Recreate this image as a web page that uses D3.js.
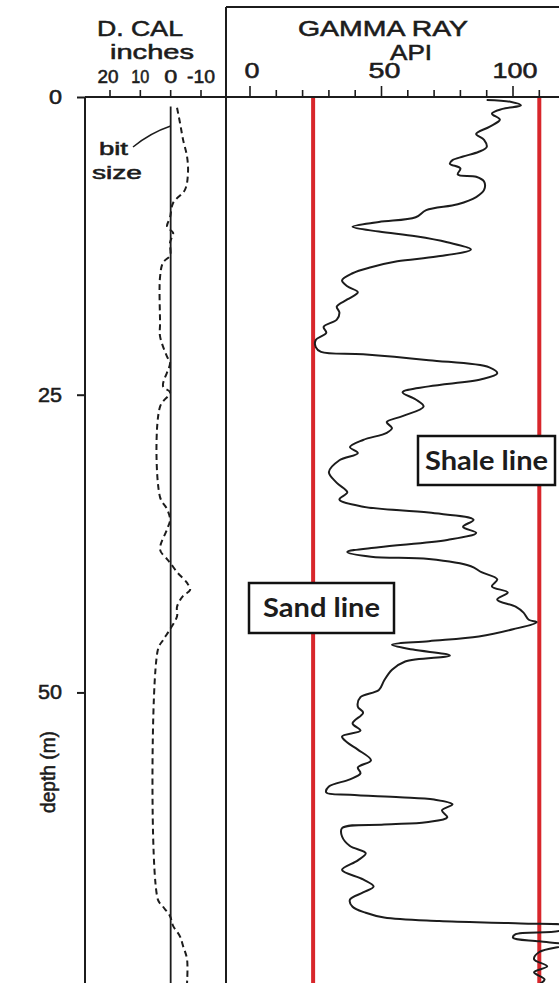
<!DOCTYPE html>
<html>
<head>
<meta charset="utf-8">
<script src="https://cdn.jsdelivr.net/npm/d3@7"></script>
<style>
  html, body { margin: 0; padding: 0; background: #fff; }
  svg { display: block; }
  text { font-family: "Liberation Sans", Arial, sans-serif; fill: #1c1c1c; }
  .hdr { stroke: #1c1c1c; stroke-width: 0.55; }
</style>
</head>
<body>
<svg id="log" width="559" height="983"></svg>
<script>
// Gamma ray log (API) against depth (m)
const grDepth = [0.25, 0.4, 0.7, 1.0, 1.4, 1.9, 2.5, 3.1, 3.6, 4.2, 4.6, 5.0, 5.3, 5.6, 6.0, 6.5, 6.7, 7.1, 7.8, 8.4,
  9.0, 9.5, 10.1, 10.5, 10.9, 11.3, 11.7, 12.2, 12.8, 13.4, 13.8, 14.3, 14.8, 15.4, 15.9, 16.4, 17.0, 17.6, 18.1, 18.7,
  19.3, 19.8, 20.4, 21.0, 21.4, 21.6, 22.1, 22.7, 23.2, 23.7, 24.3, 24.8, 25.4, 26.0, 26.8, 27.3, 27.8, 28.2, 28.8, 29.4,
  29.9, 30.5, 31.5, 32.4, 33.2, 33.8, 34.4, 34.9, 35.5, 36.1, 36.6, 37.2, 37.8, 38.2, 38.6, 38.8, 39.4, 39.9, 40.5, 41.1,
  41.6, 42.2, 42.8, 43.3, 43.9, 44.1, 44.7, 45.3, 45.7, 46.0, 46.4, 46.9, 47.4, 48.1, 49.0, 49.8, 50.4, 51.2, 51.7, 52.6,
  53.2, 53.7, 54.2, 54.8, 55.7, 56.3, 56.8, 57.3, 57.9, 58.4, 58.6, 58.8, 59.0, 59.4, 59.9, 60.5, 60.9, 61.1, 61.4, 62.1,
  62.9, 63.5, 64.1, 64.9, 65.7, 66.3, 66.8, 67.4, 68.0, 68.5, 68.9, 69.2, 69.4, 69.6, 70.0, 70.3, 70.6, 70.9, 71.2, 71.8,
  72.4, 73.0, 73.5, 74.1, 74.5];
const grApi = [90, 99, 103, 96, 92, 95, 91, 86, 89, 90, 87, 81, 77, 76, 80, 79, 86, 89, 89, 86,
  79, 67, 63, 49, 39, 49, 63, 75, 84, 71, 56, 46, 39, 35, 37, 41, 37, 33, 34, 33,
  28, 29, 25, 25, 27, 43, 68, 91, 94, 88, 68, 58, 63, 66, 58, 52, 54, 52, 43, 38,
  41, 34, 30, 33, 37, 34, 43, 68, 85, 81, 86, 75, 49, 37, 46, 68, 84, 88, 94, 92,
  98, 94, 101, 104, 106, 109, 100, 87, 68, 54, 62, 76, 59, 54, 51, 49, 42, 41, 43, 39,
  42, 35, 37, 41, 46, 41, 42, 38, 30, 29, 38, 57, 70, 77, 73, 75, 67, 51, 35, 35,
  38, 44, 41, 35, 43, 47, 43, 38, 39, 44, 51, 72, 103, 120, 118, 101, 100, 110, 120, 110,
  108, 113, 108, 112, 110];

// Differential caliper (inches) against depth (m)
const calDepth = [0.9, 2.2, 3.6, 5.0, 6.4, 7.8, 8.9, 10.1, 10.9, 11.4, 12.2, 13.3, 13.9, 15.1, 19.0, 20.1, 21.8, 22.3,
  24.3, 24.8, 26.0, 33.6, 34.6, 35.5, 36.3, 38.0, 38.8, 39.1, 39.9, 40.8, 41.4, 41.9, 42.8, 43.6, 44.7, 45.6, 46.4,
  67.4, 68.0, 68.8, 69.6, 70.5, 71.3, 72.4, 74.4];
const calInches = [-2.1, -3.1, -4.1, -5.4, -5.7, -4.7, -0.8, 0.2, 1.2, -0.8, 0.2, 0.2, 2.5, 3.5, 3.5, 3.5, 1.2, 0.2,
  2.5, 0.2, 3.5, 3.5, 1.2, 0.2, 1.2, 3.5, 1.2, 0.2, -2.1, -5.4, -6.4, -4.1, -2.1, -2.1, 0.2, 2.5, 4.2,
  4.2, 2.5, 0.2, -0.8, -3.1, -4.1, -5.4, -5.4];

// Axis ticks and reference lines
const depthTicks = [0, 25, 50];
const calTicks = [20, 10, 0, -10];
const grMajorTicks = [0, 50, 100];
const grMinorTicks = [10, 20, 30, 40, 60, 70, 80, 90, 110];
const bitSize = 0;
const sandLineApi = 24;
const shaleLineApi = 110;
const baseLines = [
  { label: "Sand line", value: sandLineApi },
  { label: "Shale line", value: shaleLineApi }
];

const svg = d3.select("#log");
const W = 559, H = 983;
const topY = 97;

const y = d3.scaleLinear().domain([0, 74.4]).range([topY, H]);
const xGR = d3.scaleLinear().domain([0, 100]).range([250, 513]);
const xCal = d3.scaleLinear().domain([20, -10]).range([110, 201]);

const calLeft = 85, calRight = 226;
const ink = "#1c1c1c";

// Track borders
svg.append("line").attr("x1", calLeft).attr("x2", calLeft).attr("y1", topY).attr("y2", H)
  .attr("stroke", ink).attr("stroke-width", 2);
svg.append("line").attr("x1", calRight).attr("x2", calRight).attr("y1", 7).attr("y2", H)
  .attr("stroke", ink).attr("stroke-width", 2);
svg.append("line").attr("x1", calRight).attr("x2", W).attr("y1", 7).attr("y2", 7)
  .attr("stroke", ink).attr("stroke-width", 2);
svg.append("line").attr("x1", calLeft).attr("x2", W).attr("y1", topY).attr("y2", topY)
  .attr("stroke", ink).attr("stroke-width", 2.2);

// Depth axis
const depthAxis = svg.append("g").attr("transform", `translate(${calLeft},0)`)
  .call(d3.axisLeft(y).tickValues(depthTicks).tickSize(8).tickPadding(15));
depthAxis.attr("font-size", 20);
depthAxis.select(".domain").remove();
depthAxis.selectAll("line").attr("stroke", ink).attr("stroke-width", 2);
depthAxis.selectAll("text").attr("font-size", 20).attr("fill", ink).attr("class", "hdr")
  .attr("textLength", d => d === 0 ? 13 : 24).attr("lengthAdjust", "spacingAndGlyphs")
  .style("font-family", "'Liberation Sans', Arial, sans-serif");

svg.append("text").attr("transform", "translate(55,772) rotate(-90)").attr("class", "hdr")
  .attr("text-anchor", "middle").attr("font-size", 21)
  .attr("textLength", 82).attr("lengthAdjust", "spacingAndGlyphs").text("depth (m)");

// Caliper scale ticks
svg.append("g").selectAll("line").data(calTicks).join("line")
  .attr("x1", d => xCal(d)).attr("x2", d => xCal(d))
  .attr("y1", topY - 7).attr("y2", topY).attr("stroke", ink).attr("stroke-width", 1.6);
const calLabelW = { "20": 21, "10": 18, "0": 13, "-10": 28 };
svg.append("g").selectAll("text").data(calTicks).join("text").attr("class", "hdr")
  .attr("x", d => xCal(d) - (d === 20 ? 2 : 0))
  .attr("y", 83).attr("text-anchor", "middle").attr("font-size", 18)
  .attr("textLength", d => calLabelW[String(d)]).attr("lengthAdjust", "spacingAndGlyphs")
  .text(d => String(d));

svg.append("text").attr("x", 140).attr("y", 36).attr("text-anchor", "middle").attr("class", "hdr")
  .attr("font-size", 22).attr("textLength", 86).attr("lengthAdjust", "spacingAndGlyphs").text("D. CAL");
svg.append("text").attr("x", 152).attr("y", 59).attr("text-anchor", "middle").attr("class", "hdr")
  .attr("font-size", 21).attr("textLength", 84).attr("lengthAdjust", "spacingAndGlyphs").text("inches");

// Gamma ray scale ticks
svg.append("g").selectAll("line").data(grMinorTicks).join("line")
  .attr("x1", d => xGR(d)).attr("x2", d => xGR(d))
  .attr("y1", topY - 7).attr("y2", topY).attr("stroke", ink).attr("stroke-width", 1.6);
svg.append("g").selectAll("line").data(grMajorTicks).join("line")
  .attr("x1", d => xGR(d)).attr("x2", d => xGR(d))
  .attr("y1", topY - 11).attr("y2", topY).attr("stroke", ink).attr("stroke-width", 1.6);
const grLabelW = { "0": 15, "50": 32, "100": 45 };
svg.append("g").selectAll("text").data(grMajorTicks).join("text").attr("class", "hdr")
  .attr("x", d => xGR(d) + (d === 50 ? 3 : 2))
  .attr("y", 78).attr("text-anchor", "middle").attr("font-size", 22)
  .attr("textLength", d => grLabelW[String(d)]).attr("lengthAdjust", "spacingAndGlyphs")
  .text(d => String(d));

svg.append("text").attr("x", 383).attr("y", 36).attr("text-anchor", "middle").attr("class", "hdr")
  .attr("font-size", 22).attr("textLength", 170).attr("lengthAdjust", "spacingAndGlyphs").text("GAMMA RAY");
svg.append("text").attr("x", 411).attr("y", 60).attr("text-anchor", "middle").attr("class", "hdr")
  .attr("font-size", 22).attr("textLength", 42).attr("lengthAdjust", "spacingAndGlyphs").text("API");

// Bit size reference and caliper curve
svg.append("line").attr("x1", xCal(bitSize)).attr("x2", xCal(bitSize))
  .attr("y1", y(0.8)).attr("y2", H).attr("stroke", ink).attr("stroke-width", 1.8);

const calLine = d3.line().x(d => xCal(d[1])).y(d => y(d[0])).curve(d3.curveCatmullRom.alpha(0.5));
svg.append("path").datum(calDepth.map((d, i) => [d, calInches[i]]))
  .attr("d", calLine).attr("fill", "none").attr("stroke", ink)
  .attr("stroke-width", 2).attr("stroke-dasharray", "6,4");

svg.append("text").attr("x", 99).attr("y", 155).attr("font-size", 18).attr("class", "hdr")
  .attr("textLength", 29).attr("lengthAdjust", "spacingAndGlyphs").text("bit");
svg.append("text").attr("x", 92).attr("y", 179).attr("font-size", 18).attr("class", "hdr")
  .attr("textLength", 50).attr("lengthAdjust", "spacingAndGlyphs").text("size");
svg.append("path").attr("d", `M133,147 Q150,133 ${xCal(bitSize)},126`)
  .attr("fill", "none").attr("stroke", ink).attr("stroke-width", 1.5);

// Sand and shale base lines
svg.append("g").selectAll("line").data(baseLines).join("line")
  .attr("x1", d => xGR(d.value)).attr("x2", d => xGR(d.value))
  .attr("y1", topY + 1).attr("y2", H).attr("stroke", "#d8262b").attr("stroke-width", 4);

// Gamma ray curve
const grLine = d3.line().x(d => xGR(d[1])).y(d => y(d[0])).curve(d3.curveCatmullRom.alpha(0.5));
svg.append("path").datum(grDepth.map((d, i) => [d, grApi[i]]))
  .attr("d", grLine).attr("fill", "none").attr("stroke", ink).attr("stroke-width", 2);

// Labelled boxes for the base lines
const boxes = [
  { label: "Shale line", x: 418, y: 436, w: 137, h: 49 },
  { label: "Sand line", x: 249, y: 583, w: 145, h: 50 }
];
const bg = svg.append("g").selectAll("g").data(boxes).join("g");
bg.append("rect").attr("x", d => d.x).attr("y", d => d.y).attr("width", d => d.w).attr("height", d => d.h)
  .attr("fill", "#fff").attr("stroke", "#111").attr("stroke-width", 2.5);
bg.append("text").attr("x", d => d.x + d.w / 2).attr("y", d => d.y + d.h / 2 + 9)
  .attr("text-anchor", "middle").attr("font-size", 26).attr("font-weight", "bold")
  .style("font-family", "Lato, 'Open Sans', sans-serif")
  .attr("textLength", d => d.label === "Shale line" ? 123 : 117).attr("lengthAdjust", "spacingAndGlyphs")
  .text(d => d.label);
</script>
</body>
</html>
